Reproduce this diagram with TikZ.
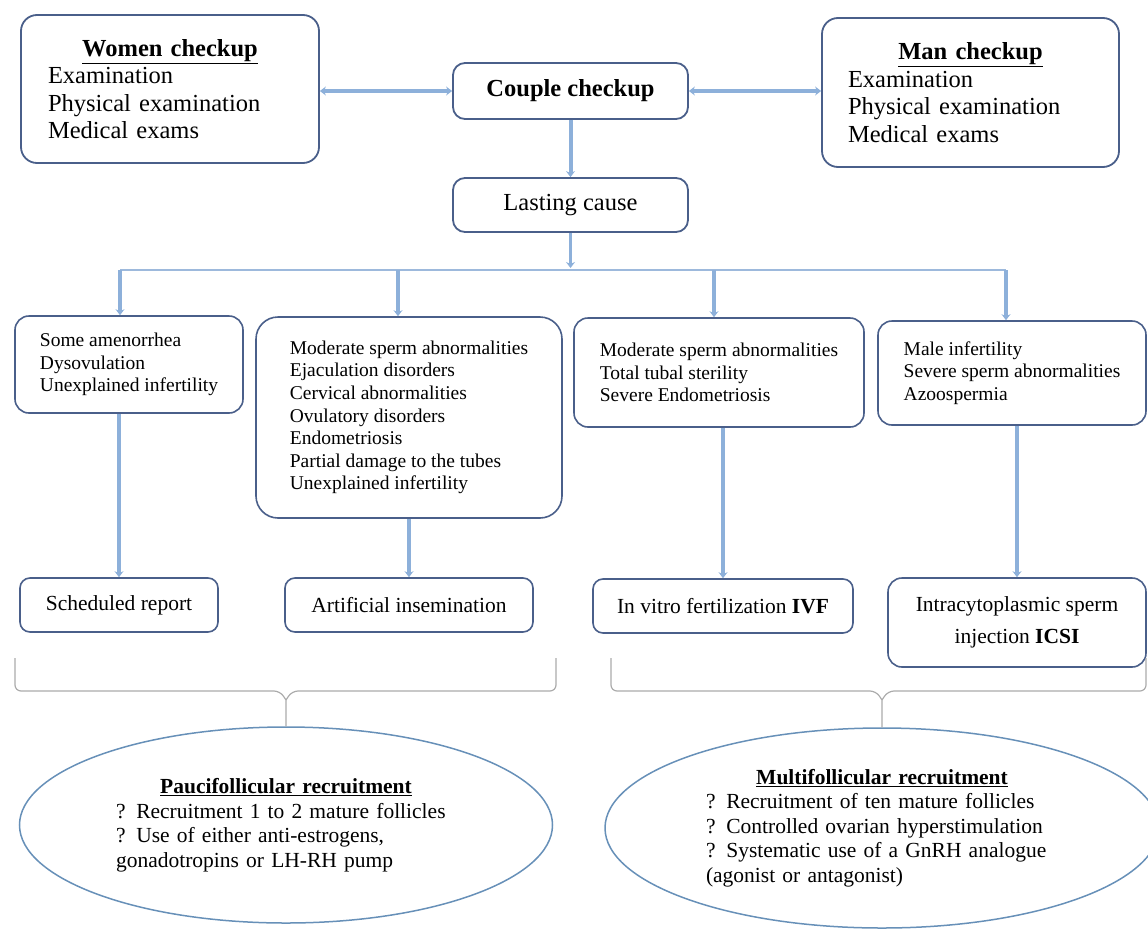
\documentclass[tikz,border=0pt]{standalone}
\usepackage{fontspec}
\setmainfont{Liberation Serif}
\usetikzlibrary{arrows.meta,shapes.geometric}

\definecolor{boxline}{HTML}{4A5F8A}
\definecolor{arrowblue}{HTML}{8DB0DA}
\definecolor{linkblue}{HTML}{9DB9DC}
\definecolor{bracegray}{HTML}{ABABAB}
\definecolor{ovalline}{HTML}{6790B8}

\tikzset{
  checkbox/.style={draw=boxline, line width=1.8pt, rounded corners=16pt, align=left, inner sep=0pt,
    font=\fontsize{24.5}{27.5}\selectfont},
  causebox/.style={draw=boxline, line width=1.6pt, rounded corners=14pt, align=left, inner sep=0pt,
    font=\fontsize{19.5}{22.6}\selectfont},
  treatbox/.style={draw=boxline, line width=1.6pt, rounded corners=10pt, align=center, inner sep=0pt,
    font=\fontsize{21.5}{32}\selectfont},
  oval/.style={ellipse, draw=ovalline, line width=1.5pt, align=left, inner sep=0pt,
    font=\fontsize{21.5}{24.5}\selectfont},
  thickarrow/.style={arrowblue, line width=4pt, -{Stealth[length=6pt,width=9pt]}},
  bothways/.style={arrowblue, line width=4.5pt, {Stealth[length=6pt,width=9pt]}-{Stealth[length=6pt,width=9pt]}},
  bracket/.style={bracegray, line width=1.2pt},
}

\begin{document}
\begin{tikzpicture}[x=1pt, y=-1pt]
    \useasboundingbox (0,0) rectangle (1148,929);
    % checkups
    \node [checkbox, text width=244pt, minimum width=298pt, minimum height=148pt] (women) at (170,89)
      {\makebox[\linewidth]{\textbf{\underline{Women checkup}}}\\ Examination\\ Physical examination\\ Medical exams};
    \node [checkbox, text width=245pt, minimum width=297pt, minimum height=149pt] (man) at (970.5,92.5)
      {\makebox[\linewidth]{\textbf{\underline{Man checkup}}}\\ Examination\\ Physical examination\\ Medical exams};
    \node [checkbox, rounded corners=12pt, minimum width=235pt, minimum height=56pt, align=center] (couple) at (570.5,91)
      {\textbf{Couple checkup}};
    \node [checkbox, rounded corners=12pt, minimum width=235pt, minimum height=54pt, align=center] (lasting) at (570.5,205)
      {Lasting cause};
    \draw [bothways] (couple.west -| women.east) -- (couple.west);
    \draw [bothways] (couple.east) -- (couple.east -| man.west);
    \draw [thickarrow] (couple.south) -- (lasting.north);

    % causes
    \node [causebox, minimum width=228pt, minimum height=97pt] (colone) at (129,364.5)
      {Some amenorrhea\\ Dysovulation\\ Unexplained infertility};
    \node [causebox, minimum width=306pt, minimum height=201pt, rounded corners=22pt] (coltwo) at (409,417.5)
      {Moderate sperm abnormalities\\ Ejaculation disorders\\ Cervical abnormalities\\ Ovulatory disorders\\
       Endometriosis\\ Partial damage to the tubes\\ Unexplained infertility};
    \node [causebox, minimum width=290pt, minimum height=109pt] (colthree) at (719,372.5)
      {Moderate sperm abnormalities\\ Total tubal sterility\\ Severe Endometriosis};
    \node [causebox, minimum width=268pt, minimum height=104pt] (colfour) at (1012,373)
      {Male infertility\\ Severe sperm abnormalities\\ Azoospermia};

    \coordinate (split) at (570.5,268);
    \coordinate (b1) at (120,270);
    \coordinate (b2) at (398,270);
    \coordinate (b3) at (714,270);
    \coordinate (b4) at (1006,270);
    \draw [thickarrow, line width=3.5pt] (lasting.south) -- (split);
    \draw [linkblue, line width=1.6pt] (b1) -- (b4);
    \foreach \c/\n in {b1/colone, b2/coltwo, b3/colthree, b4/colfour}
        \draw [thickarrow] (\c) -- (\c |- \n.north);

    % treatments
    \node [treatbox, minimum width=198pt, minimum height=54pt] (sched) at (119,605) {Scheduled report};
    \node [treatbox, minimum width=248pt, minimum height=54pt] (artif) at (409,605) {Artificial insemination};
    \node [treatbox, minimum width=260pt, minimum height=54pt] (ivf) at (723,606) {In vitro fertilization \textbf{IVF}};
    \node [treatbox, minimum width=258pt, minimum height=89pt, rounded corners=14pt] (icsi) at (1017,622.5)
      {Intracytoplasmic sperm\\ injection \textbf{ICSI}};
    \draw [thickarrow] (sched.north |- colone.south) -- (sched.north);
    \draw [thickarrow] (artif.north |- coltwo.south) -- (artif.north);
    \draw [thickarrow] (ivf.north |- colthree.south) -- (ivf.north);
    \draw [thickarrow] (icsi.north |- colfour.south) -- (icsi.north);

    % recruitment
    \node [oval, text width=340pt, minimum width=533pt, minimum height=196pt] (pauci) at (286,825)
      {\makebox[\linewidth]{\textbf{\underline{Paucifollicular recruitment}}}\\
       ?\enspace Recruitment 1 to 2 mature follicles\\
       ?\enspace Use of either anti-estrogens,\\
       gonadotropins or LH-RH pump};
    \node [oval, text width=352pt, minimum width=554pt, minimum height=200pt] (multi) at (882,828)
      {\makebox[\linewidth]{\textbf{\underline{Multifollicular recruitment}}}\\
       ?\enspace Recruitment of ten mature follicles\\
       ?\enspace Controlled ovarian hyperstimulation\\
       ?\enspace Systematic use of a GnRH analogue\\
       (agonist or antagonist)};

    % braces
    \coordinate (lb1) at (15,658);
    \coordinate (lb2) at (556,658);
    \coordinate (lbm) at (286,691);
    \coordinate (rb1) at (611,658);
    \coordinate (rb2) at (1146,658);
    \coordinate (rbm) at (882,691);
    \draw [bracket] (lb1) [rounded corners=6pt] |- ([xshift=-6pt]lbm) [sharp corners] -- ([yshift=-9pt]lbm) -- (pauci.north);
    \draw [bracket] (lb2) [rounded corners=6pt] |- ([xshift=6pt]lbm) [sharp corners] -- ([yshift=-9pt]lbm);
    \draw [bracket] (rb1) [rounded corners=6pt] |- ([xshift=-6pt]rbm) [sharp corners] -- ([yshift=-9pt]rbm) -- (multi.north);
    \draw [bracket] (rb2) [rounded corners=6pt] |- ([xshift=6pt]rbm) [sharp corners] -- ([yshift=-9pt]rbm);
\end{tikzpicture}
\end{document}
